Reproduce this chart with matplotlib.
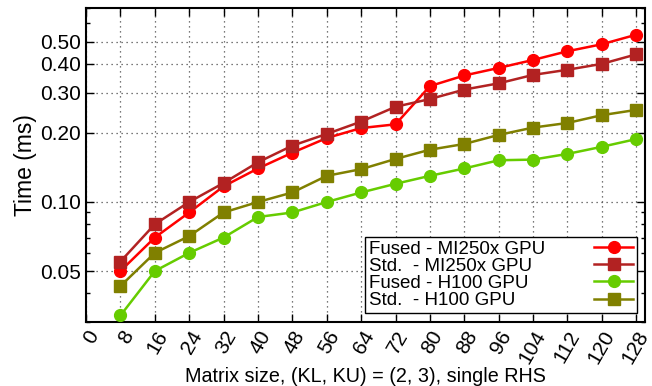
import numpy as np
import matplotlib.pyplot as plt
from matplotlib.ticker import FixedLocator, NullFormatter

plt.rcParams['font.family'] = ['Liberation Sans', 'DejaVu Sans']

# === data ===
sizes = [8, 16, 24, 32, 40, 48, 56, 64, 72, 80, 88, 96, 104, 112, 120, 128]
fused_mi250x = [0.050, 0.070, 0.090, 0.117, 0.140, 0.164, 0.190, 0.210, 0.218,
                0.320, 0.356, 0.384, 0.416, 0.454, 0.487, 0.536]
std_mi250x = [0.055, 0.080, 0.100, 0.121, 0.149, 0.176, 0.198, 0.224, 0.260,
              0.281, 0.309, 0.329, 0.358, 0.377, 0.400, 0.440]
fused_h100 = [0.032, 0.050, 0.060, 0.070, 0.086, 0.090, 0.100, 0.110, 0.120,
              0.130, 0.140, 0.152, 0.153, 0.162, 0.174, 0.188]
std_h100 = [0.043, 0.060, 0.071, 0.090, 0.100, 0.110, 0.130, 0.139, 0.154,
            0.169, 0.179, 0.196, 0.211, 0.221, 0.239, 0.252]

xticks = list(range(0, 129, 8))
yticks = [0.05, 0.10, 0.20, 0.30, 0.40, 0.50]
ytick_labels = ['0.05', '0.10', '0.20', '0.30', '0.40', '0.50']

fig = plt.figure(figsize=(6.52, 3.86), dpi=100)
ax = fig.add_axes([0.132, 0.166, 0.857, 0.813])

series = [
    ('Fused - MI250x GPU', fused_mi250x, '#ff0000', 'o', 8.5),
    ('Std.  - MI250x GPU', std_mi250x, '#b22222', 's', 8),
    ('Fused - H100 GPU', fused_h100, '#66cc00', 'o', 8.5),
    ('Std.  - H100 GPU', std_h100, '#808000', 's', 8),
]
for label, vals, col, mk, ms in series:
    ax.plot(sizes, vals, color=col, marker=mk, markersize=ms, lw=1.8, label=label,
            zorder=3)

ax.set_yscale('log')
ax.set_xlim(0, 130)
ax.set_ylim(0.03, 0.7)

ax.set_xticks(xticks)
ax.set_xticklabels([str(t) for t in xticks], rotation=60, ha='right',
                   rotation_mode='anchor')
ax.yaxis.set_major_locator(FixedLocator(yticks))
ax.set_yticklabels(ytick_labels)
minor = [0.03, 0.04, 0.06, 0.07, 0.08, 0.09, 0.6, 0.7]
ax.yaxis.set_minor_locator(FixedLocator(minor))
ax.yaxis.set_minor_formatter(NullFormatter())

ax.tick_params(axis='both', which='major', direction='in', length=6, width=1,
               top=True, right=True, labelsize=15, pad=4)
ax.tick_params(axis='y', which='minor', direction='in', length=3, width=1,
               right=True)

ax.grid(True, which='major', color='0.3', linestyle=(0, (1, 3)), lw=0.9)
for sp in ax.spines.values():
    sp.set_linewidth(1.5)

ax.set_xlabel('Matrix size, (KL, KU) = (2, 3), single RHS', fontsize=14.2, labelpad=0)
ax.set_ylabel('Time (ms)', fontsize=16.5, labelpad=2)

fs = 13.5
leg = ax.legend(loc='lower right', bbox_to_anchor=(0.986, 0.029), fontsize=fs,
                markerfirst=False, fancybox=False, framealpha=1, edgecolor='black',
                borderpad=0.2, labelspacing=0.0, handlelength=2.1,
                handletextpad=2.6, borderaxespad=0)
leg.get_frame().set_linewidth(1.0)

# left-align the legend labels while keeping the sample lines in one column
fig.canvas.draw()
renderer = fig.canvas.get_renderer()
widths = [t.get_window_extent(renderer).width for t in leg.get_texts()]
maxw = max(widths)
base_sep = 2.6 * fs
for column in leg._legend_handle_box.get_children():
    column.align = 'left'
    for item in column.get_children():
        txt = item.get_children()[0]._text
        w = txt.get_window_extent(renderer).width
        item.sep = base_sep + (maxw - w) * 72 / fig.dpi

fig.savefig('out.png', dpi=100)
